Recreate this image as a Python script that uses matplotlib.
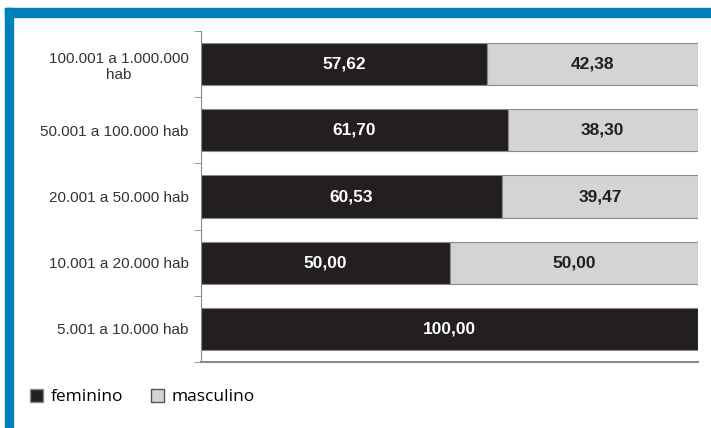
import matplotlib.pyplot as plt
from matplotlib.patches import Rectangle, Patch
import numpy as np

categories = ["100.001 a 1.000.000\nhab", "50.001 a 100.000 hab", "20.001 a 50.000 hab",
              "10.001 a 20.000 hab", "5.001 a 10.000 hab"]
feminino = [57.62, 61.70, 60.53, 50.00, 100.00]
masculino = [42.38, 38.30, 39.47, 50.00, 0.00]

dark = "#231f20"
light = "#d4d4d4"
edge = "#8a8a8a"
blue = "#0080b8"

plt.rcParams['font.family'] = ['Liberation Sans', 'DejaVu Sans']

fig = plt.figure(figsize=(7.11, 4.28), dpi=100)
W, H = 711, 428

# blue frame
fig.patches.append(Rectangle((5 / W, 1 - 17 / H), 1 - 5 / W, 9 / H,
                             transform=fig.transFigure, color=blue, zorder=0))
fig.patches.append(Rectangle((5 / W, 0), 8 / W, 1 - 8 / H,
                             transform=fig.transFigure, color=blue, zorder=0))

ax = fig.add_axes([201 / W, 1 - 362 / H, 497 / W, 331 / H])

y = np.arange(len(categories))
ax.barh(y, feminino, height=0.64, color=dark, edgecolor=edge, linewidth=0.8)
ax.barh(y, masculino, left=feminino, height=0.64, color=light, edgecolor=edge, linewidth=0.8)

for i in range(len(categories)):
    ax.text(feminino[i] / 2, y[i], f"{feminino[i]:.2f}".replace(".", ","),
            ha="center", va="center", color="white", fontweight="bold", fontsize=12.5)
    if masculino[i] > 0:
        ax.text(feminino[i] + masculino[i] / 2, y[i], f"{masculino[i]:.2f}".replace(".", ","),
                ha="center", va="center", color=dark, fontweight="bold", fontsize=12.5)

ax.set_xlim(0, 100)
ax.set_ylim(len(categories) - 0.5, -0.5)
ax.set_yticks(y)
ax.set_yticklabels(categories, fontsize=11, color="#333333", multialignment="center")
ax.set_yticks(np.arange(-0.5, len(categories), 1), minor=True)
ax.tick_params(axis="y", which="major", length=0, pad=9)
ax.tick_params(axis="y", which="minor", length=5, color=edge)
ax.set_xticks([])

for s in ["top", "right"]:
    ax.spines[s].set_visible(False)
ax.spines["left"].set_color(edge)
ax.spines["bottom"].set_color(edge)
ax.spines["bottom"].set_linewidth(1.5)

handles = [Patch(facecolor=dark, edgecolor=edge, label="feminino"),
           Patch(facecolor=light, edgecolor="#555555", label="masculino")]
fig.legend(handles=handles, loc="center left", bbox_to_anchor=(14 / W, 1 - 397 / H),
           ncol=2, frameon=False, handlelength=0.75, handleheight=0.75,
           handletextpad=0.45, columnspacing=1.6, prop={'family': 'Open Sans', 'size': 12.5})

plt.savefig("out.png", dpi=100)
